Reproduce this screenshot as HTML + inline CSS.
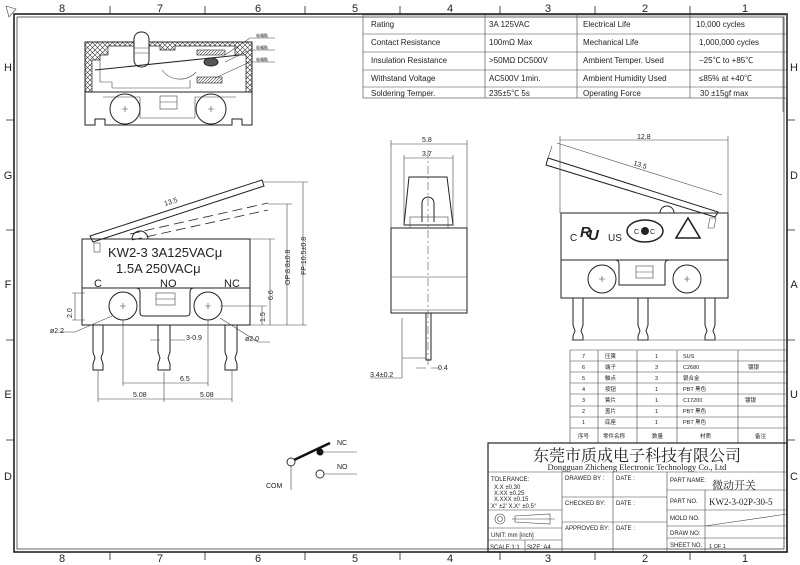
<!DOCTYPE html>
<html><head><meta charset="utf-8"><style>
html,body{margin:0;padding:0;background:#fff;}
svg{display:block;}
text{font-family:"Liberation Sans","Noto Sans CJK SC",sans-serif;fill:#222;}
.s{fill:none;stroke:#222;stroke-width:1;}
.t{fill:none;stroke:#444;stroke-width:0.6;}
</style></head><body>
<svg width="800" height="565" viewBox="0 0 800 565" xmlns="http://www.w3.org/2000/svg">
<defs>
<pattern id="hx" width="5" height="5" patternUnits="userSpaceOnUse"><path d="M0 0L5 5M5 0L0 5" stroke="#333" stroke-width="0.6"/></pattern>
<pattern id="hd" width="3" height="3" patternUnits="userSpaceOnUse"><path d="M0 3L3 0" stroke="#333" stroke-width="0.6"/></pattern>
</defs>
<!-- frame -->
<rect x="14" y="14" width="773" height="538" fill="none" stroke="#222" stroke-width="1.6"/>
<rect x="17" y="17" width="767" height="532" fill="none" stroke="#222" stroke-width="0.7"/>
<path d="M6 6L16 9L9 17Z" class="t"/>
<g font-size="11" text-anchor="middle">
<text x="62" y="12">8</text><text x="160" y="12">7</text><text x="258" y="12">6</text><text x="355" y="12">5</text><text x="450" y="12">4</text><text x="548" y="12">3</text><text x="645" y="12">2</text><text x="745" y="12">1</text>
<text x="62" y="562">8</text><text x="160" y="562">7</text><text x="258" y="562">6</text><text x="355" y="562">5</text><text x="450" y="562">4</text><text x="548" y="562">3</text><text x="645" y="562">2</text><text x="745" y="562">1</text>
<text x="8" y="71">H</text><text x="8" y="179">G</text><text x="8" y="288">F</text><text x="8" y="398">E</text><text x="8" y="480">D</text>
<text x="794" y="71">H</text><text x="794" y="179">D</text><text x="794" y="288">A</text><text x="794" y="398">U</text><text x="794" y="480">C</text>
</g>
<g stroke="#222" stroke-width="0.8">
<path d="M110 6V14M205 6V14M305 6V14M400 6V14M500 6V14M595 6V14M690 6V14"/>
<path d="M110 552V560M205 552V560M305 552V560M400 552V560M500 552V560M595 552V560M690 552V560"/>
<path d="M6 120H14M6 230H14M6 340H14M6 440H14M787 120H795M787 230H795M787 340H795M787 440H795"/>
</g>
<!-- spec table -->
<g class="t" stroke-width="0.7">
<rect x="363" y="15" width="424" height="83"/>
<path d="M363 34H787M363 52H787M363 70H787M363 87H787M485 15V98M577 15V98M690 15V98M783 17V112"/>
</g>
<g font-size="8">
<text x="371" y="27">Rating</text><text x="489" y="27">3A 125VAC</text><text x="583" y="27">Electrical Life</text><text x="696" y="27">10,000 cycles</text>
<text x="371" y="45">Contact Resistance</text><text x="489" y="45">100mΩ Max</text><text x="583" y="45">Mechanical Life</text><text x="699" y="45">1,000,000 cycles</text>
<text x="371" y="63">Insulation Resistance</text><text x="489" y="63">&gt;50MΩ DC500V</text><text x="583" y="63">Ambient Temper. Used</text><text x="699" y="63">−25℃ to +85℃</text>
<text x="371" y="81">Withstand Voltage</text><text x="489" y="81">AC500V  1min.</text><text x="583" y="81">Ambient Humidity Used</text><text x="699" y="81">≤85% at +40℃</text>
<text x="371" y="96">Soldering Temper.</text><text x="489" y="96">235±5℃ 5s</text><text x="583" y="96">Operating Force</text><text x="700" y="96">30 ±15gf max</text>
</g>
<!-- top-left cutaway -->
<rect x="85" y="42" width="167" height="50" fill="url(#hx)" stroke="#222"/>
<path d="M92 92V60H100V55H108V46H134V60H149V46H160V50H175V46H235V55H246V92Z" fill="#fff" stroke="#222" stroke-width="0.7"/>
<rect x="134" y="32" width="15" height="35" rx="7" fill="#fff" stroke="#222"/>
<path d="M134 48H149M134 53H149" class="t"/>
<path d="M95 70L240 55" class="s"/>
<ellipse cx="211" cy="62" rx="7" ry="4" fill="#555" stroke="#222"/>
<rect x="197" y="50" width="28" height="5" fill="url(#hd)" stroke="#222" stroke-width="0.6"/>
<rect x="197" y="77" width="25" height="6" fill="url(#hd)" stroke="#222" stroke-width="0.6"/>
<path d="M162 70A22 22 0 0 0 196 72M100 60V82H112V88H190V80" class="t"/>
<path d="M85 92H252V125H242V119H232V125H105V119H95V125H85Z" class="s"/>
<path d="M103 97H140V118H195V97H236" class="t"/>
<circle cx="125" cy="109" r="15" class="s"/><circle cx="211" cy="109" r="15" class="s"/>
<path d="M122 109h6M125 106v6M208 109h6M211 106v6" class="t"/>
<rect x="160" y="96" width="17" height="13" class="t"/><path d="M160 102H177" class="t"/>
<path d="M225 55L250 38H275M225 62L250 50H275M215 78L250 62H275" class="t"/>
<g font-size="4"><text x="256" y="37">吸嘴點</text><text x="256" y="49">吸嘴點</text><text x="256" y="61">吸嘴點</text></g>
<!-- side view main -->
<path d="M90 236L262 180L264 186L93 242Z" class="s"/>
<path d="M130 234L268 203" stroke="#222" stroke-width="0.8" stroke-dasharray="10,5" fill="none"/>
<path d="M132 240L268 210" stroke="#222" stroke-width="0.8" stroke-dasharray="10,5" fill="none"/>
<path d="M132 239A8 8 0 0 1 148 239" class="s"/>
<rect x="82" y="239" width="168" height="49" class="s"/>
<path d="M82 288V325H250V288M82 288H136Q140 288 140 292V313Q140 316 144 316H186Q190 316 190 313V292Q190 288 194 288H250" class="s"/>
<circle cx="123" cy="306" r="14" class="s"/><circle cx="208" cy="306" r="14" class="s"/>
<path d="M120 306h6M123 303v6M205 306h6M208 303v6" class="t"/>
<rect x="156" y="293" width="19" height="12" class="t"/><path d="M156 299H175" class="t"/>
<path d="M93 325V352L95 358L93 364V370H103V364L101 358L103 352V325M158 325V352L160 358L158 364V370H170V364L168 358L170 352V325M225 325V352L227 358L225 364V370H237V364L235 358L237 352V325" class="s"/>
<rect x="94" y="243" width="6" height="9" class="t"/>
<text x="108" y="257" font-size="13" fill="#444">KW2-3 3A125VACμ</text>
<text x="116" y="273" font-size="13" fill="#444">1.5A 250VACμ</text>
<g font-size="11" fill="#444"><text x="94" y="287">C</text><text x="160" y="287">NO</text><text x="224" y="287">NC</text></g>
<g class="t">
<path d="M250 239H275M270 239V325M250 325H307M268 204H292M287 204V325M262 182H308M303 182V325M220 306H267M262 306V325"/>
<path d="M98 370V402M164 372V402M232 370V402M98 399H232M123 320V386M208 320V386M123 383H208"/>
<path d="M72 293H85M72 320H85M75 293V320M112 316L75 332H60M220 318L258 342H270M150 340H160M170 340H185"/>
</g>
<g font-size="7">
<text x="133" y="397">5.08</text><text x="200" y="397">5.08</text><text x="180" y="381">6.5</text><text x="186" y="340">3-0.9</text>
<text x="50" y="333">ø2.2</text><text x="245" y="341">ø2.0</text>
<text transform="translate(273,300) rotate(-90)">6.6</text>
<text transform="translate(290,285) rotate(-90)">OP:8.8±0.8</text>
<text transform="translate(306,275) rotate(-90)">FP:10.5±0.8</text>
<text transform="translate(265,322) rotate(-90)">1.5</text>
<text transform="translate(72,318) rotate(-90)">2.0</text>
<text x="165" y="206" transform="rotate(-18 165 206)">13.5</text>
</g>
<!-- front view -->
<path d="M409 177H447L453 225H404Z" class="s"/>
<path d="M422 222V203A6 6 0 0 1 434 203V222" class="s"/>
<rect x="410" y="217" width="38" height="11" class="t"/>
<rect x="391" y="228" width="76" height="85" class="s"/>
<path d="M391 277H467M391 310H467" class="t"/>
<path d="M426 313V360H431V313" class="s"/>
<path d="M428 150V365" stroke="#333" stroke-width="0.5" stroke-dasharray="8,3,2,3" fill="none"/>
<g class="t"><path d="M391 140V228M467 140V228M391 144H467M404 155V225M453 155V225M404 158H453M402 318V378M370 378H402M402 358H426M416 368H426M431 368H440"/></g>
<g font-size="7"><text x="422" y="142">5.8</text><text x="422" y="156">3.7</text><text x="370" y="377">3.4±0.2</text><text x="438" y="370">0.4</text></g>
<!-- right view -->
<path d="M548 158L718 212L715 217L546 165Z" class="s"/>
<path d="M548 158L552 146" class="t"/>
<path d="M660 213A7 7 0 0 1 674 213" class="s"/>
<rect x="561" y="213" width="167" height="47" class="s"/>
<path d="M561 260V298H728V260M561 260H615Q619 260 619 264V285H665V264Q665 260 669 260" class="s"/>
<circle cx="602" cy="279" r="14" class="s"/><circle cx="687" cy="279" r="14" class="s"/>
<path d="M599 279h6M602 276v6M684 279h6M687 276v6" class="t"/>
<rect x="636" y="266" width="17" height="12" class="t"/><path d="M636 272H653" class="t"/>
<path d="M573 298V325L575 331L573 336V340H583V336L581 331L583 325V298M638 298V325L640 331L638 336V340H648V336L646 331L648 325V298M705 298V325L707 331L705 336V340H715V336L713 331L715 325V298" class="s"/>
<path d="M560 136V213M728 136V213M560 140H728M557 143L722 195" class="t"/>
<text x="637" y="139" font-size="7">12.8</text>
<text x="633" y="165" font-size="7" transform="rotate(17 633 165)">13.5</text>
<text x="570" y="241" font-size="10">C</text>
<text x="580" y="237" font-size="15" font-weight="bold" font-style="italic">R</text><text x="588" y="240" font-size="15" font-weight="bold" font-style="italic">U</text>
<text x="608" y="241" font-size="10">US</text>
<ellipse cx="645" cy="231" rx="18" ry="11" fill="none" stroke="#222" stroke-width="1.5"/>
<circle cx="645" cy="231" r="4" fill="#222"/><text x="634" y="234" font-size="7">C</text><text x="650" y="234" font-size="7">C</text>
<path d="M688 218L676 238H700Z" fill="none" stroke="#222" stroke-width="1.6"/>
<path d="M710 218H716L714 228H708Z" class="t"/>
<path d="M571 340H787" class="t"/>
<!-- schematic -->
<path d="M294 460L330 443" stroke="#111" stroke-width="2.5"/>
<circle cx="291" cy="462" r="4" fill="#fff" stroke="#333"/>
<circle cx="320" cy="452" r="3.5" fill="#111"/>
<path d="M320 452H357M324 474H357M291 466V490" class="t"/>
<circle cx="320" cy="474" r="4" fill="#fff" stroke="#333"/>
<g font-size="7"><text x="337" y="445">NC</text><text x="337" y="469">NO</text><text x="266" y="488">COM</text></g>
<!-- parts list -->
<g class="t" stroke-width="0.7">
<path d="M570 350H787M570 361H787M570 372H787M570 383H787M570 394H787M570 406H787M570 417H787M570 428H787M570 350V443M598 350V443M637 350V443M677 350V443M738 350V443"/>
</g>
<g font-size="5.5">
<text x="582" y="358">7</text><text x="605" y="358">压簧</text><text x="655" y="358">1</text><text x="683" y="358">SUS</text>
<text x="582" y="369">6</text><text x="605" y="369">端子</text><text x="655" y="369">3</text><text x="683" y="369">C2680</text><text x="748" y="369">镀银</text>
<text x="582" y="380">5</text><text x="605" y="380">触点</text><text x="655" y="380">3</text><text x="683" y="380">银合金</text>
<text x="582" y="391">4</text><text x="605" y="391">按钮</text><text x="655" y="391">1</text><text x="683" y="391">PBT 黑色</text>
<text x="582" y="402">3</text><text x="605" y="402">簧片</text><text x="655" y="402">1</text><text x="683" y="402">C17200</text><text x="745" y="402">镀银</text>
<text x="582" y="413">2</text><text x="605" y="413">盖片</text><text x="655" y="413">1</text><text x="683" y="413">PBT 黑色</text>
<text x="582" y="424">1</text><text x="605" y="424">底座</text><text x="655" y="424">1</text><text x="683" y="424">PBT 黑色</text>
<text x="578" y="438">序号</text><text x="603" y="438">零件名称</text><text x="652" y="438">数量</text><text x="700" y="438">材质</text><text x="755" y="438">备注</text>
</g>
<!-- title block -->
<g class="t" stroke-width="0.8">
<rect x="488" y="443" width="299" height="109" stroke="#222" stroke-width="1.2"/>
<path d="M488 472H787M562 472V552M613 472V552M667 472V552M705 490V552M562 497H667M562 522H667M667 490H787M667 510H787M667 526H787M667 538H787M488 510H562M488 528H562M488 540H562M525 540V552M705 526L787 514"/>
</g>
<text x="637" y="461" font-size="16" text-anchor="middle" style="font-family:'Noto Serif CJK SC',serif" fill="#222">东莞市质成电子科技有限公司</text>
<text x="637" y="470" font-size="8.5" text-anchor="middle" style="font-family:'Liberation Serif',serif" fill="#333">Dongguan Zhicheng Electronic Technology Co., Ltd</text>
<g font-size="6">
<text x="491" y="481">TOLERANCE:</text><text x="494" y="489">X.X    ±0.30</text><text x="494" y="495">X.XX   ±0.25</text><text x="494" y="501">X.XXX  ±0.15</text><text x="491" y="508">X° ±2'      X.X° ±0.5°</text>
<text x="491" y="537">UNIT: mm [inch]</text><text x="490" y="549">SCALE:1:1</text><text x="527" y="549">SIZE: A4</text>
<text x="565" y="480">DRAWED BY :</text><text x="616" y="480">DATE :</text>
<text x="565" y="505">CHECKED BY:</text><text x="616" y="505">DATE :</text>
<text x="565" y="530">APPROVED BY:</text><text x="616" y="530">DATE :</text>
<text x="670" y="482">PART NAME:</text><text x="670" y="503">PART NO.</text><text x="670" y="520">MOLD NO.</text><text x="670" y="535">DRAW NO:</text><text x="670" y="547">SHEET NO.</text>
<text x="709" y="548" font-size="5.5">1 OF 1</text>
</g>
<text x="712" y="489" font-size="11" style="font-family:'Noto Serif CJK SC',serif" fill="#555">微动开关</text>
<text x="709" y="505" font-size="9" style="font-family:'Liberation Serif',serif" fill="#555">KW2-3-02P-30-5</text>
<circle cx="500" cy="519" r="5" class="t"/><circle cx="500" cy="519" r="2.5" class="t"/>
<path d="M515 516L550 514V524L515 522ZM512 519H555" class="t"/>
</svg>
</body></html>
